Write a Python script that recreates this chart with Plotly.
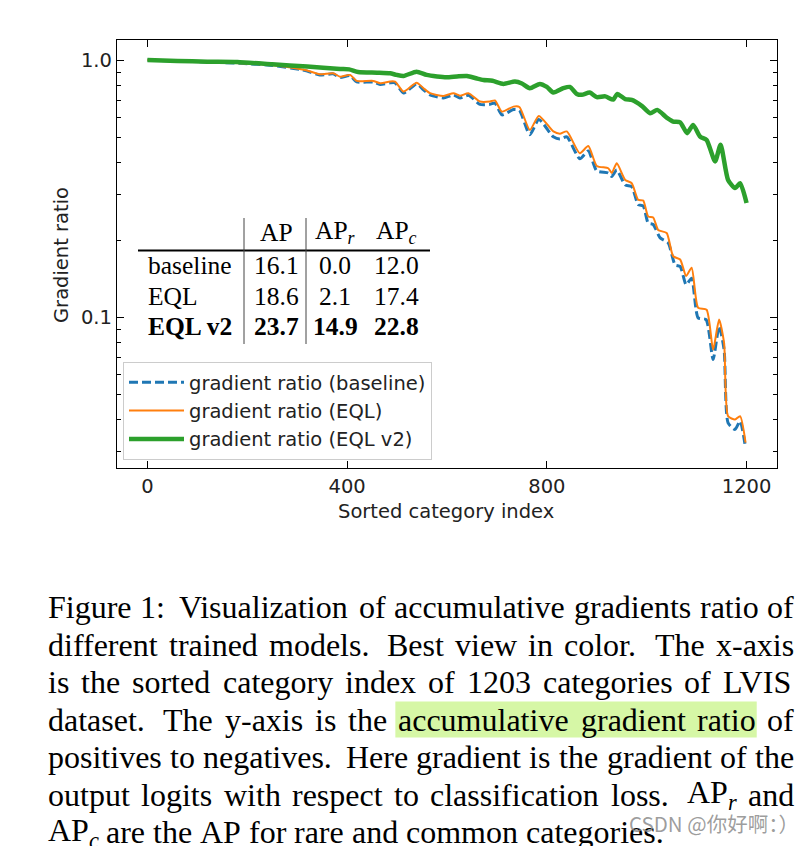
import plotly.graph_objects as go

# ---------------- data ----------------
base_x = [0, 60, 120, 187, 252, 305, 320, 345, 372, 386, 406, 419, 452, 466, 486, 496, 513, 539, 553, 566,
          593, 613, 626, 643, 666, 686, 696, 710, 733, 745, 766, 784, 813, 826, 840, 866, 883, 900, 923, 930,
          940, 957, 970, 983, 993, 1003, 1013, 1027, 1043, 1057, 1067, 1079, 1090, 1103, 1119, 1133, 1145,
          1155, 1163, 1177, 1187, 1198]
base_y = [1.005, 0.997, 0.989, 0.976, 0.957, 0.924, 0.910, 0.880, 0.888, 0.860, 0.874, 0.826, 0.826, 0.808,
          0.820, 0.820, 0.748, 0.812, 0.770, 0.735, 0.716, 0.735, 0.716, 0.733, 0.676, 0.676, 0.684, 0.615,
          0.645, 0.640, 0.515, 0.590, 0.505, 0.495, 0.505, 0.415, 0.445, 0.372, 0.365, 0.354, 0.375, 0.328,
          0.323, 0.275, 0.272, 0.233, 0.230, 0.204, 0.195, 0.160, 0.158, 0.134, 0.142, 0.0995, 0.098, 0.0685,
          0.0923, 0.0749, 0.0388, 0.0366, 0.0394, 0.031]

eql_x = [0, 60, 120, 187, 252, 305, 320, 345, 372, 386, 406, 419, 452, 466, 486, 496, 513, 539, 553, 566,
         593, 613, 626, 643, 666, 686, 696, 710, 733, 745, 766, 784, 813, 826, 840, 866, 883, 900, 923, 930,
         940, 957, 970, 983, 993, 1003, 1013, 1023, 1040, 1053, 1067, 1079, 1090, 1103, 1120, 1133, 1145,
         1155, 1163, 1177, 1187, 1198]
eql_y = [1.005, 0.998, 0.990, 0.978, 0.960, 0.928, 0.915, 0.885, 0.893, 0.866, 0.880, 0.834, 0.834, 0.817,
         0.830, 0.829, 0.758, 0.821, 0.781, 0.747, 0.729, 0.747, 0.730, 0.747, 0.693, 0.693, 0.700, 0.633,
         0.662, 0.660, 0.537, 0.609, 0.530, 0.519, 0.530, 0.436, 0.465, 0.389, 0.381, 0.365, 0.398, 0.343,
         0.333, 0.287, 0.285, 0.247, 0.245, 0.219, 0.213, 0.173, 0.168, 0.145, 0.156, 0.109, 0.107, 0.0749,
         0.098, 0.0795, 0.0412, 0.040, 0.0412, 0.0325]

v2_x = [0, 60, 120, 180, 250, 320, 386, 404, 422, 460, 486, 499, 513, 539, 559, 580, 599, 620, 640, 660,
        673, 691, 713, 736, 750, 766, 786, 800, 813, 833, 846, 860, 870, 886, 900, 917, 933, 941, 957, 970,
        990, 1007, 1021, 1040, 1053, 1067, 1081, 1093, 1107, 1120, 1137, 1148, 1163, 1177, 1187, 1200]
v2_y = [1.005, 0.998, 0.991, 0.988, 0.968, 0.948, 0.928, 0.925, 0.903, 0.898, 0.893, 0.880, 0.872, 0.906,
        0.880, 0.868, 0.862, 0.868, 0.872, 0.852, 0.841, 0.835, 0.812, 0.829, 0.815, 0.781, 0.812, 0.790,
        0.751, 0.781, 0.790, 0.742, 0.736, 0.751, 0.721, 0.726, 0.705, 0.742, 0.708, 0.703, 0.667, 0.624,
        0.643, 0.600, 0.579, 0.575, 0.522, 0.562, 0.506, 0.491, 0.405, 0.470, 0.343, 0.319, 0.333, 0.279]

series_names = ["gradient ratio (baseline)", "gradient ratio (EQL)", "gradient ratio (EQL v2)"]

x_ticks = [0, 400, 800, 1200]
y_ticks = [0.1, 1.0]
y_tick_labels = ["0.1", "1.0"]
y_minor = [0.03, 0.04, 0.05, 0.06, 0.07, 0.08, 0.09, 0.2, 0.3, 0.4, 0.5, 0.6, 0.7, 0.8, 0.9]

table_header = ["AP", "AP<sub><i>r</i></sub>", "AP<sub><i>c</i></sub>"]
table_rows = ["baseline", "EQL", "EQL v2"]
table_ap = ["16.1", "18.6", "23.7"]
table_apr = ["0.0", "2.1", "14.9"]
table_apc = ["12.0", "17.4", "22.8"]

caption_lines = [
    "Figure 1: Visualization of accumulative gradients ratio of",
    "different trained models. Best view in color. The x-axis",
    "is the sorted category index of 1203 categories of LVIS",
    "dataset. The y-axis is the accumulative gradient ratio of",
    "positives to negatives. Here gradient is the gradient of the",
    "output logits with respect to classification loss. AP_r and",
    "AP_c are the AP for rare and common categories.",
]
highlight_words = (3, 5, 7)  # line index, first word, last word
watermark = "CSDN @你好啊：）"

# ---------------- layout geometry ----------------
W, H = 807, 846
L, R, T, B = 117, 30, 40, 378
PW = W - L - R
PH = H - T - B


def px(x):
    return (x - L) / PW


def py(y):
    return (H - B - y) / PH


SANS = "DejaVu Sans"
SERIF = "Liberation Serif"
FS = 19.5

fig = go.Figure()
fig.add_trace(go.Scatter(x=base_x, y=base_y, mode="lines", name=series_names[0],
                         line=dict(color="#1f77b4", width=3, dash="9px,4px", shape="spline", smoothing=0.6)))
fig.add_trace(go.Scatter(x=eql_x, y=eql_y, mode="lines", name=series_names[1],
                         line=dict(color="#ff7f0e", width=2, shape="spline", smoothing=0.6)))
fig.add_trace(go.Scatter(x=v2_x, y=v2_y, mode="lines", name=series_names[2],
                         line=dict(color="#2ca02c", width=4.5, shape="spline", smoothing=0.6)))

axis_common = dict(showline=True, linecolor="black", linewidth=1.3, mirror="ticks", ticks="inside",
                   ticklen=7, tickwidth=1.2, tickcolor="black", showgrid=False, zeroline=False,
                   tickfont=dict(family=SANS, size=FS, color="#222"))
fig.update_xaxes(range=[-61, 1261], tickvals=x_ticks, **axis_common)
fig.update_yaxes(type="log", range=[-1.587, 0.0805], tickvals=y_ticks, ticktext=y_tick_labels,
                 minor=dict(tickvals=y_minor, ticks="inside", ticklen=4, tickwidth=1, tickcolor="black",
                            showgrid=False),
                 **axis_common)

annotations = []
shapes = []

# axis titles
annotations.append(dict(text="Sorted category index", x=px(446), y=py(511), xref="paper", yref="paper",
                        showarrow=False, font=dict(family=SANS, size=FS, color="#222"),
                        xanchor="center", yanchor="middle"))
annotations.append(dict(text="Gradient ratio", x=px(62), y=py(255), xref="paper", yref="paper",
                        showarrow=False, textangle=-90, font=dict(family=SANS, size=FS, color="#222"),
                        xanchor="center", yanchor="middle"))

# inset table
TFS = 25.5
col_x = [276, 335, 396]
row_y = [265.5, 296, 326.5]
head_y = 232
for cx, h in zip(col_x, table_header):
    annotations.append(dict(text=h, x=px(cx), y=py(head_y), xref="paper", yref="paper", showarrow=False,
                            font=dict(family=SERIF, size=TFS, color="black"), xanchor="center",
                            yanchor="middle"))
cols = [table_ap, table_apr, table_apc]
for i, (ry, name) in enumerate(zip(row_y, table_rows)):
    bold = i == len(table_rows) - 1

    def fmt(s):
        return f"<b>{s}</b>" if bold else s
    annotations.append(dict(text=fmt(name), x=px(147), y=py(ry), xref="paper", yref="paper",
                            showarrow=False, font=dict(family=SERIF, size=TFS, color="black"),
                            xanchor="left", yanchor="middle", borderpad=0))
    for cx, col in zip(col_x, cols):
        annotations.append(dict(text=fmt(col[i]), x=px(cx), y=py(ry), xref="paper", yref="paper",
                                showarrow=False, font=dict(family=SERIF, size=TFS, color="black"),
                                xanchor="center", yanchor="middle"))
shapes.append(dict(type="line", xref="paper", yref="paper", x0=px(138), x1=px(430), y0=py(250.5),
                   y1=py(250.5), line=dict(color="black", width=2)))
for vx in (244, 306):
    shapes.append(dict(type="line", xref="paper", yref="paper", x0=px(vx), x1=px(vx), y0=py(218),
                       y1=py(344), line=dict(color="#444", width=1)))

# caption with full justification (Times metrics)
TW = {' ': 250, 'a': 444, 'b': 500, 'c': 444, 'd': 500, 'e': 444, 'f': 333, 'g': 500, 'h': 500, 'i': 278,
      'j': 278, 'k': 500, 'l': 278, 'm': 778, 'n': 500, 'o': 500, 'p': 500, 'q': 500, 'r': 333, 's': 389,
      't': 278, 'u': 500, 'v': 500, 'w': 722, 'x': 500, 'y': 500, 'z': 444, 'A': 722, 'B': 667, 'C': 667,
      'D': 722, 'E': 611, 'F': 556, 'G': 722, 'H': 722, 'I': 333, 'J': 389, 'K': 722, 'L': 611, 'M': 889,
      'N': 722, 'O': 722, 'P': 556, 'Q': 722, 'R': 667, 'S': 556, 'T': 611, 'U': 722, 'V': 722, 'W': 944,
      'X': 722, 'Y': 722, 'Z': 611, '.': 250, ',': 250, ':': 278, '-': 333, '(': 333, ')': 333}
CFS = 32
CAP_L, CAP_R = 47, 793
LINE0, STEP = 607, 37.5


def word_info(w):
    if "_" in w:
        base, sub = w.split("_")
        width = sum(TW.get(c, 500) for c in base) + 0.7 * 389
        return f"{base}<sub><i>{sub}</i></sub>", width * CFS / 1000
    return w, sum(TW.get(c, 500) for c in w) * CFS / 1000


for li, line in enumerate(caption_lines):
    words = line.split(" ")
    infos = [word_info(w) for w in words]
    cy = LINE0 + li * STEP
    total_w = sum(wd for _, wd in infos)
    weights = [1.6 if words[k].endswith(('.', ':')) else 1.0 for k in range(len(words) - 1)]
    if li < len(caption_lines) - 1:
        unit = (CAP_R - CAP_L - total_w) / sum(weights)
    else:
        unit = TW[' '] * CFS / 1000
        weights = [1.0] * (len(words) - 1)
    x = CAP_L
    starts = []
    for k, (txt, wd) in enumerate(infos):
        starts.append((x, wd))
        annotations.append(dict(text=txt, x=px(x), y=py(cy), xref="paper", yref="paper", showarrow=False,
                                font=dict(family=SERIF, size=CFS, color="black"), xanchor="left",
                                yanchor="middle", borderpad=0))
        if k < len(weights):
            x += wd + unit * weights[k]
    if li == highlight_words[0]:
        x0 = starts[highlight_words[1]][0] - 2
        x1 = starts[highlight_words[2]][0] + starts[highlight_words[2]][1] + 2
        shapes.append(dict(type="rect", xref="paper", yref="paper", x0=px(x0), x1=px(x1),
                           y0=py(cy - 18), y1=py(cy + 18), fillcolor="#d6f7a6", line=dict(width=0),
                           layer="below"))

annotations.append(dict(text=watermark, x=px(627), y=py(823), xref="paper", yref="paper", showarrow=False,
                        font=dict(family="Noto Sans CJK SC", size=20.5, color="rgba(140,140,140,0.85)"),
                        xanchor="left", yanchor="middle"))

fig.update_layout(
    width=W, height=H, margin=dict(l=L, r=R, t=T, b=B, autoexpand=False),
    paper_bgcolor="white", plot_bgcolor="white",
    annotations=annotations, shapes=shapes,
    legend=dict(x=px(123), y=py(460), xanchor="left", yanchor="bottom", bgcolor="white",
                bordercolor="#cccccc", borderwidth=1, font=dict(family=SANS, size=FS, color="#222"),
                itemwidth=55),
    showlegend=True,
)

fig.write_html("out.html", config={"displayModeBar": False},
               post_script="document.body.style.margin='0px';")
